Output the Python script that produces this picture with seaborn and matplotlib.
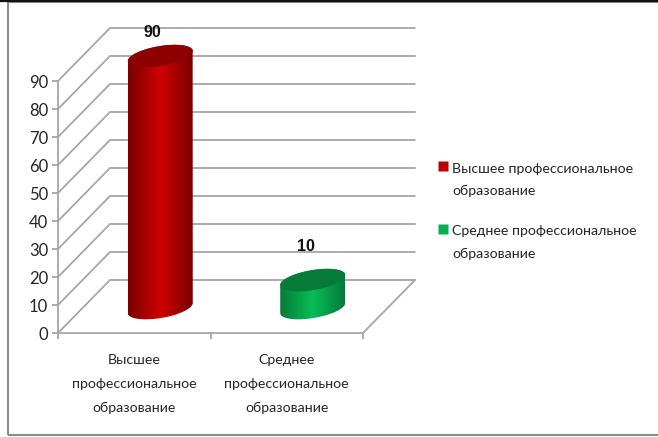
# Cylinder chart: education levels
import numpy as np
import matplotlib
matplotlib.use("Agg")
import matplotlib.pyplot as plt
from matplotlib.colors import LinearSegmentedColormap
from matplotlib.patches import PathPatch, Rectangle
from matplotlib.path import Path
import seaborn as sns

# Data
categories = ["Высшее\nпрофессиональное\nобразование", "Среднее\nпрофессиональное\nобразование"]
legend_labels = ["Высшее профессиональное\nобразование", "Среднее профессиональное\nобразование"]
values = [90, 10]
y_ticks = [0, 10, 20, 30, 40, 50, 60, 70, 80, 90]

# Colours for each cylinder
legend_colors = ["#c00000", "#00b050"]
edge_colors = ["#7a0000", "#067a38"]
mid_colors = ["#cf0000", "#08bd5a"]
top_colors = ["#8e0000", "#067a37"]
grid_color = "#a6a6a6"
text_color = "#262626"

# 3D look, in data units
depth_x = 52 / 152.5
depth_y = 53 / 2.8
base_y = 8.9
ellipse_b = 3.6
ellipse_s = 1.8

sns.set_style("white")
plt.rcParams["font.family"] = ["Lato", "DejaVu Sans"]

fig = plt.figure(figsize=(6.58, 4.37), dpi=100)
ax = fig.add_axes([58 / 658, 104 / 437, 305 / 658, 252 / 437])

sns.barplot(x=list(range(len(values))), y=values, hue=list(range(len(values))),
            palette=legend_colors, width=65 / 152.5, bottom=base_y, legend=False, ax=ax)

x_left, x_right = -0.5, 1.5
y_low, y_high = 0, 90

# Walls and floor
for tick in y_ticks:
    ax.plot([x_left, x_left + depth_x, x_right + depth_x],
            [tick, tick + depth_y, tick + depth_y],
            color=grid_color, lw=1.3, clip_on=False, zorder=1)
ax.plot([x_right, x_right + depth_x], [0, depth_y], color=grid_color, lw=1.3, clip_on=False, zorder=1)


def ellipse_xy(cx, cy, half_w, start, stop):
    t = np.linspace(start, stop, 80)
    return cx + half_w * np.cos(t), cy + ellipse_b * np.sin(t) + ellipse_s * np.cos(t)


# Replace each bar with a shaded cylinder
for i, bar in enumerate(list(ax.patches)):
    bar.set_visible(False)
    half_w = bar.get_width() / 2
    cx = bar.get_x() + half_w + depth_x / 2
    bottom = bar.get_y()
    top = bottom + bar.get_height()

    x_low, y_low_edge = ellipse_xy(cx, bottom, half_w, np.pi, 2 * np.pi)
    x_up, y_up_edge = ellipse_xy(cx, top, half_w, 0, np.pi)
    body = np.column_stack([np.r_[x_low, x_up], np.r_[y_low_edge, y_up_edge]])

    cmap = LinearSegmentedColormap.from_list("cyl", [edge_colors[i], mid_colors[i], edge_colors[i]])
    im = ax.imshow(np.linspace(0, 1, 256).reshape(1, -1), cmap=cmap, aspect="auto",
                   extent=[cx - half_w, cx + half_w, bottom - 10, top + 10], zorder=3)
    im.set_clip_path(Path(body, closed=False), ax.transData)
    im.set_clip_box(fig.bbox)

    x_top, y_top = ellipse_xy(cx, top, half_w, 0, 2 * np.pi)
    ax.add_patch(PathPatch(Path(np.column_stack([x_top, y_top])), facecolor=top_colors[i],
                           edgecolor="none", clip_on=False, zorder=4))

# Value labels
label_offsets = [(-6, 17), (-5, 24)]
for i, value in enumerate(values):
    ax.annotate(str(value), (i + depth_x / 2, base_y + value), xytext=label_offsets[i],
                textcoords="offset points", ha="center", va="center", family=["Liberation Sans"],
                fontsize=11.5, fontweight="bold", color="#111111", zorder=6, annotation_clip=False)

ax.set_xlim(x_left, x_right)
ax.set_ylim(y_low, y_high)
ax.set_yticks(y_ticks)
ax.set_xticks([-0.5, 0.5, 1.5])
ax.set_xticklabels([])
ax.set_xticks([0, 1], labels=categories, minor=True)
ax.tick_params(axis="y", length=4, width=1.3, color=grid_color, left=True, labelsize=12, labelcolor=text_color, pad=3)
ax.tick_params(axis="x", which="major", length=4, width=1.3, color=grid_color, bottom=True)
ax.tick_params(axis="x", which="minor", length=0, pad=15, labelsize=10.2, labelcolor=text_color)
for label in ax.get_xticklabels(minor=True):
    label.set_linespacing(2.2)
ax.set_xlabel("")
ax.set_ylabel("")
ax.patch.set_alpha(0)
sns.despine(ax=ax)
for side in ["left", "bottom"]:
    ax.spines[side].set_color(grid_color)
    ax.spines[side].set_linewidth(1.3)

# Legend
handles = [plt.Line2D([], [], ls="none", marker="s", ms=7, mfc=c, mec="none") for c in legend_colors]
leg = fig.legend(handles, legend_labels, loc="upper left", bbox_to_anchor=(434 / 658, 1 - 160 / 437),
                 frameon=False, fontsize=10.2, labelcolor=text_color, handlelength=0.9,
                 handletextpad=0.2, labelspacing=2.0, borderpad=0.2, borderaxespad=0)
for text in leg.get_texts():
    text.set_linespacing(2.0)
# Markers sit beside the first line of each entry
for handle in leg.legend_handles:
    handle.set_ydata(np.asarray(handle.get_ydata()) + 10)

# Outer frame
fig.add_artist(Rectangle((8 / 658, 2 / 437), 660 / 658, 433 / 437, transform=fig.transFigure,
                         facecolor="none", edgecolor="#8c8c8c", lw=1.5))
fig.add_artist(plt.Line2D([0, 1], [1 - 0.7 / 437, 1 - 0.7 / 437], color="#111111", lw=1.6))

fig.savefig("out.png", dpi=100)
